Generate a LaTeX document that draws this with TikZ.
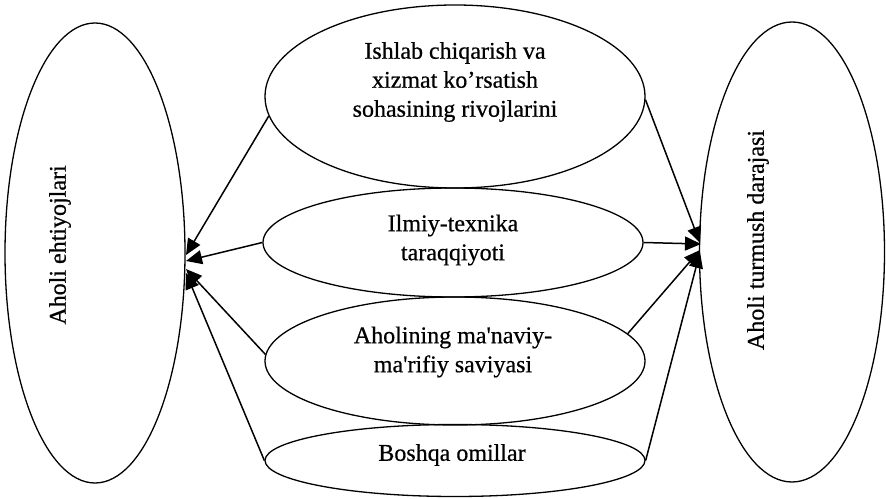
\documentclass[tikz,border=0pt]{standalone}
\usepackage{fontspec}
\setmainfont{Liberation Serif}
\newfontfamily\scanfont{Liberation Serif}[FakeBold=0.6]
\usetikzlibrary{shapes.geometric,arrows.meta}
\tikzset{
  oval/.style={draw=black,ellipse,line width=1.3pt,inner sep=0pt},
  lbl/.style={align=center,font=\scanfont\fontsize{24}{29}\selectfont,inner sep=0pt},
  arr/.style={line width=1.5pt,-{Triangle[length=16pt,width=14pt]}}
}
\begin{document}
\begin{tikzpicture}[x=1pt,y=1pt]
\useasboundingbox (0,0) rectangle (886,498);
% big ellipses
\node[oval,minimum width=180pt,minimum height=460pt] (L) at (95,245) {};
\node[oval,minimum width=185pt,minimum height=460pt] (R) at (792,246) {};
\node[lbl,rotate=90] (Lt) at (60,253) {Aholi ehtiyojlari};
\node[lbl,rotate=90] (Rt) at (758,258) {Aholi turmush darajasi};
% middle ellipses
\node[oval,minimum width=380pt,minimum height=183pt] (E1) at (455,401.5) {};
\node[oval,minimum width=380pt,minimum height=109pt] (E2) at (453,255.5) {};
\node[oval,minimum width=380pt,minimum height=128pt] (E3) at (455,137) {};
\node[oval,minimum width=380pt,minimum height=72pt] (E4) at (455,37.5) {};
\node[lbl] (T1) at (455,416) {Ishlab chiqarish va\\xizmat ko’rsatish\\sohasining rivojlarini};
\node[lbl] (T2) at (453,258) {Ilmiy-texnika\\taraqqiyoti};
\node[lbl] (T3) at (453,146) {Aholining ma\textquotesingle naviy-\\ma\textquotesingle rifiy saviyasi};
\node[lbl] (T4) at (452,43) {Boshqa omillar};
% arrow tips
\coordinate (tL1) at (186,243);
\coordinate (tL2) at (186,237);
\coordinate (tL3) at (186,229);
\coordinate (tL4) at (186,225);
\coordinate (tR1) at (700,255);
\coordinate (tR2) at (701,254);
\coordinate (tR3) at (700,248);
\coordinate (tR4) at (700,246);
% connectors
\draw[arr] (E1.186) -- (tL1);
\draw[arr] (E2.west) -- (tL2);
\draw[arr] (E3.178) -- (tL3);
\draw[arr] (E4.west) -- (tL4);
\draw[arr] (E1.359) -- (tR1);
\draw[arr] (E2.east) -- (tR2);
\draw[arr] (E3.9) -- (tR3);
\draw[arr] (E4.east) -- (tR4);
\end{tikzpicture}
\end{document}
